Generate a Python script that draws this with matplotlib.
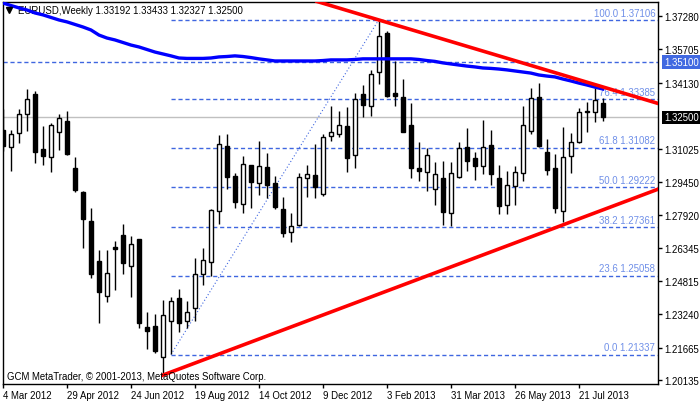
import matplotlib
matplotlib.use("Agg")
import matplotlib.pyplot as plt

plt.rcParams['font.family'] = ['Liberation Sans', 'DejaVu Sans']

# ---------------- Data ----------------
opens = [1.3191, 1.3111, 1.3177, 1.3266, 1.3361, 1.3102, 1.3064, 1.3182, 1.3233, 1.3012,
         1.2899, 1.2762, 1.2574, 1.2409, 1.2640, 1.2696, 1.2550, 1.2678, 1.2263, 1.2268,
         1.2122, 1.2291, 1.2400, 1.2291, 1.2353, 1.2513, 1.2569, 1.2809, 1.3116, 1.2974,
         1.2842, 1.3026, 1.2941, 1.3017, 1.2941, 1.2819, 1.2711, 1.2744, 1.2965, 1.2979,
         1.2890, 1.3163, 1.3172, 1.3210, 1.3073, 1.3361, 1.3304, 1.3464, 1.3648, 1.3365,
         1.3346, 1.3215, 1.3012, 1.2993, 1.2913, 1.2965, 1.2800, 1.2970, 1.3111, 1.3059,
         1.3021, 1.3120, 1.2965, 1.2838, 1.2927, 1.2988, 1.3186, 1.3346, 1.3087, 1.3012,
         1.2809, 1.3069, 1.3134, 1.3276, 1.3276, 1.33192]
highs = [1.3290, 1.3191, 1.3290, 1.3384, 1.3375, 1.3210, 1.3224, 1.3266, 1.3281, 1.3064,
         1.2904, 1.2824, 1.2626, 1.2626, 1.2668, 1.2748, 1.2692, 1.2678, 1.2334, 1.2324,
         1.2390, 1.2404, 1.2442, 1.2386, 1.2588, 1.2635, 1.2819, 1.3167, 1.3172, 1.2988,
         1.3069, 1.3026, 1.3139, 1.3083, 1.2974, 1.2875, 1.2800, 1.2988, 1.3026, 1.3125,
         1.3172, 1.3304, 1.3281, 1.3299, 1.3365, 1.3403, 1.3474, 1.3709, 1.3657, 1.3516,
         1.3431, 1.3318, 1.3134, 1.3106, 1.3040, 1.3045, 1.3040, 1.3134, 1.3200, 1.3087,
         1.3238, 1.3191, 1.3026, 1.2998, 1.3021, 1.3304, 1.3389, 1.3412, 1.3149, 1.3078,
         1.3205, 1.3177, 1.3295, 1.3323, 1.3389, 1.33433]
lows = [1.3092, 1.2998, 1.3130, 1.3186, 1.3035, 1.3026, 1.2993, 1.3097, 1.3073, 1.2899,
        1.2635, 1.2494, 1.2282, 1.2381, 1.2437, 1.2513, 1.2404, 1.2258, 1.2160, 1.2141,
        1.2037, 1.2136, 1.2240, 1.2258, 1.2291, 1.2461, 1.2503, 1.2748, 1.2913, 1.2824,
        1.2800, 1.2824, 1.2885, 1.2871, 1.2819, 1.2687, 1.2664, 1.2739, 1.2875, 1.2871,
        1.2880, 1.3139, 1.3158, 1.2993, 1.3012, 1.3252, 1.3257, 1.3408, 1.3346, 1.3304,
        1.3182, 1.2965, 1.2951, 1.2904, 1.2838, 1.2744, 1.2739, 1.2965, 1.2998, 1.2955,
        1.2984, 1.2932, 1.2795, 1.2795, 1.2838, 1.2951, 1.3172, 1.3111, 1.2979, 1.2800,
        1.2758, 1.2988, 1.3130, 1.3182, 1.3229, 1.32327]
closes = [1.3116, 1.3172, 1.3266, 1.3337, 1.3087, 1.3069, 1.3215, 1.3248, 1.3078, 1.2908,
          1.2772, 1.2513, 1.2428, 1.2517, 1.2631, 1.2565, 1.2654, 1.2282, 1.2244, 1.2150,
          1.2320, 1.2386, 1.2282, 1.2334, 1.2513, 1.2579, 1.2814, 1.3125, 1.2970, 1.2852,
          1.3031, 1.2946, 1.3021, 1.2932, 1.2828, 1.2706, 1.2739, 1.2970, 1.2984, 1.2922,
          1.3158, 1.3182, 1.3215, 1.3059, 1.3337, 1.3309, 1.3455, 1.3634, 1.3351, 1.3351,
          1.3182, 1.3012, 1.2998, 1.3073, 1.2984, 1.2805, 1.2988, 1.3106, 1.3045, 1.3021,
          1.3111, 1.2984, 1.2833, 1.2932, 1.2993, 1.3215, 1.3342, 1.3116, 1.3003, 1.2824,
          1.3064, 1.3134, 1.3276, 1.3281, 1.3332, 1.32500]
ma = [1.3789, 1.3777, 1.3766, 1.3756, 1.3742, 1.3733, 1.3721, 1.3709, 1.3700, 1.3688,
      1.3676, 1.3662, 1.3638, 1.3624, 1.3615, 1.3603, 1.3591, 1.3582, 1.3570, 1.3558,
      1.3549, 1.3540, 1.3530, 1.3528, 1.3528, 1.3528, 1.3530, 1.3535, 1.3537, 1.3540,
      1.3537, 1.3532, 1.3526, 1.3521, 1.3516, 1.3516, 1.3516, 1.3516, 1.3516, 1.3516,
      1.3518, 1.3521, 1.3521, 1.3521, 1.3523, 1.3526, 1.3526, 1.3526, 1.3526, 1.3526,
      1.3526, 1.3526, 1.3523, 1.3518, 1.3514, 1.3507, 1.3502, 1.3497, 1.3492, 1.3488,
      1.3483, 1.3481, 1.3478, 1.3474, 1.3469, 1.3464, 1.3459, 1.3450, 1.3445, 1.3441,
      1.3431, 1.3422, 1.3412, 1.3403, 1.3393, 1.3384]

date_labels = ["4 Mar 2012", "29 Apr 2012", "24 Jun 2012", "19 Aug 2012", "14 Oct 2012",
               "9 Dec 2012", "3 Feb 2013", "31 Mar 2013", "26 May 2013", "21 Jul 2013"]
price_ticks = [1.37280, 1.35705, 1.34130, 1.31025, 1.29450, 1.27920, 1.26345,
               1.24815, 1.23240, 1.21665, 1.20135]

fib_pcts = [0.0, 23.6, 38.2, 50.0, 61.8, 76.4, 100.0]
fib_prices = [1.21337, 1.25058, 1.27361, 1.29222, 1.31082, 1.33385, 1.37106]
fib_start, fib_end = 21, 47

hline_level = 1.35100
last_price = 1.32500

upper_trend = [(47, 1.3709), (74, 1.3405)]
lower_trend = [(20, 1.2037), (70, 1.2744)]

# ---------------- Figure ----------------
fig = plt.figure(figsize=(7, 4.02), dpi=100)
W, H = 700, 402
ax = fig.add_axes([2.5 / W, (H - 385) / H, (658 - 2.5) / W, (385 - 2.5) / H])
xmin, xmax = -0.06, 81.9
ax.set_xlim(xmin, xmax)
ax.set_ylim(1.1995, 1.3796)

fib_col = "#3f66e0"
fib_txt = "#6f8fe8"
dash = (0, (3, 2))

# horizontal lines
ax.axhline(last_price, color="#c0c0c0", lw=1, zorder=1)
ax.axhline(hline_level, color=fib_col, lw=1, ls=dash, zorder=1)

# fibonacci
for pct, lvl in zip(fib_pcts, fib_prices):
    ax.plot([fib_start, xmax], [lvl, lvl], color=fib_col, lw=1, ls=dash, zorder=1)
    ax.annotate(f"{pct:.1f} {lvl:.5f}", xy=(1, lvl), xycoords=("axes fraction", "data"),
                xytext=(-2, 1.5), textcoords="offset points", ha="right", va="bottom",
                fontsize=6.9, color=fib_txt, zorder=2)
ax.plot([fib_start, fib_end], [fib_prices[0], fib_prices[-1]], color=fib_col,
        lw=0.8, ls=(0, (1, 2)), zorder=1)

# candles
idx = list(range(len(opens)))
ax.vlines(idx, lows, highs, color="black", lw=1, zorder=3)
for i, o, c in zip(idx, opens, closes):
    bottom = min(o, c)
    height = max(abs(c - o), 0.00025)
    fc = "white" if c >= o else "black"
    ax.bar(i, height, bottom=bottom, width=0.55, color=fc, edgecolor="black",
           linewidth=1, zorder=4)

# moving average
ax.plot(idx, ma, color="#0000ff", lw=2.4, zorder=5)

# trend lines
ax.axline(upper_trend[0], upper_trend[1], color="#ff0000", lw=2.6, zorder=6)
(x1, y1), (x2, y2) = lower_trend
slope = (y2 - y1) / (x2 - x1)
ax.plot([x1, xmax], [y1, y1 + slope * (xmax - x1)], color="#ff0000", lw=2.6, zorder=6)

# ---------------- Axes ----------------
for s in ax.spines.values():
    s.set_color("black")
    s.set_linewidth(1)

ax.yaxis.tick_right()
ax.set_yticks(price_ticks)
ax.set_yticklabels([f"{p:.5f}" for p in price_ticks])
ax.tick_params(axis="y", length=3, width=1, pad=1.5, labelsize=6.9)

ax.set_xticks(list(range(0, 8 * len(date_labels), 8)))
ax.set_xticklabels(date_labels, ha="left")
ax.tick_params(axis="x", length=3, width=1, pad=1.5, labelsize=6.9)

# price tags on the right axis
ax.annotate(f"{hline_level:.5f}", xy=(1, hline_level), xycoords=("axes fraction", "data"),
            xytext=(4.5, 0), textcoords="offset points", ha="left", va="center",
            fontsize=6.9, color="white",
            bbox=dict(boxstyle="square,pad=0.2", fc="#4169e1", ec="none"))
ax.annotate(f"{last_price:.5f}", xy=(1, last_price), xycoords=("axes fraction", "data"),
            xytext=(4.5, 0), textcoords="offset points", ha="left", va="center",
            fontsize=6.9, color="white",
            bbox=dict(boxstyle="square,pad=0.2", fc="black", ec="none"))

# header and footer text
aw, ah = 655.5, 382.5
ax.plot([(9 - 2.5) / aw], [1 - (11 - 2.5) / ah], marker="v", color="black", ms=4,
        transform=ax.transAxes, clip_on=False, zorder=7)
ax.text((18 - 2.5) / aw, 1 - (11 - 2.5) / ah,
        "EURUSD,Weekly 1.33192 1.33433 1.32327 1.32500", transform=ax.transAxes,
        ha="left", va="center", fontsize=6.9, color="black", zorder=4)
ax.text((7 - 2.5) / aw, (385 - 377) / ah,
        "GCM MetaTrader, \u00a9 2001-2013, MetaQuotes Software Corp.", transform=ax.transAxes,
        ha="left", va="center", fontsize=6.9, color="black", zorder=7)

fig.savefig("out.png", dpi=100)
